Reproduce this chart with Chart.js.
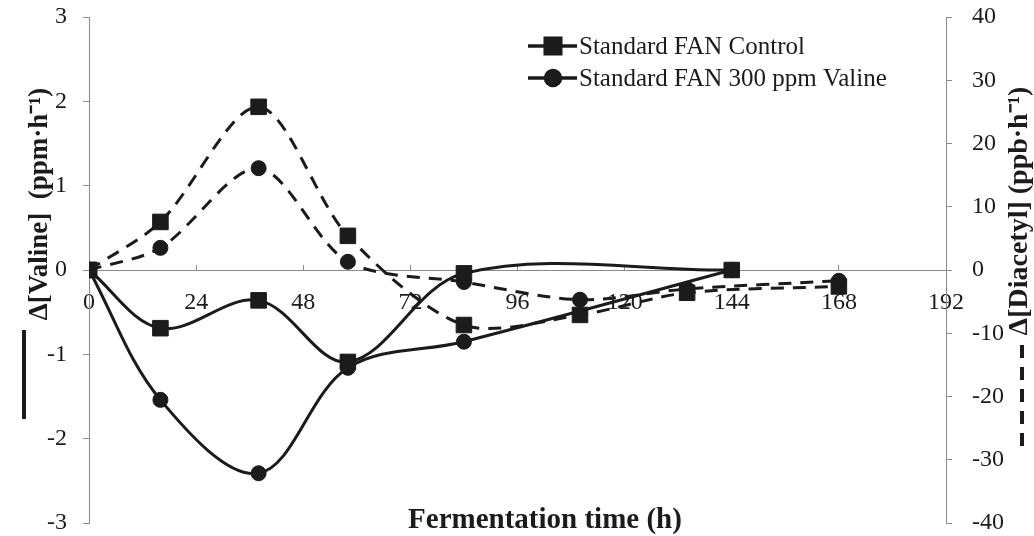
<!DOCTYPE html>
<html>
<head>
<meta charset="utf-8">
<script src="https://cdn.jsdelivr.net/npm/chart.js@4.4.1/dist/chart.umd.min.js"></script>
<style>
  html, body { margin: 0; padding: 0; background: #fff; }
  #wrap { width: 1034px; height: 536px; }
</style>
</head>
<body>
<div id="wrap"><canvas id="chart" width="1034" height="536"></canvas></div>
<script>
// ===== DATA =====
var hours = [0, 16, 38, 58, 84, 110, 134, 144, 168];
// valine change rate (ppm/h), left axis, solid lines
var valineControl = [0, -0.69, -0.36, -1.09, -0.04, null, null, 0, null];
var valine300 = [0, -1.54, -2.41, -1.16, -0.85, null, null, 0, null];
// diacetyl change rate (ppb/h), right axis, dashed lines
var diacetylControl = [0, 7.6, 25.8, 5.4, -8.7, -7.1, -3.6, null, -2.6];
var diacetyl300 = [0, 3.5, 16.1, 1.3, -1.9, -4.7, -3.0, null, -1.7];

var seriesNames = ['Standard FAN Control', 'Standard FAN 300 ppm Valine'];
var xTicks = [0, 24, 48, 72, 96, 120, 144, 168, 192];
var xTitle = 'Fermentation time (h)';
var leftTitle = '\u0394[Valine]  (ppm\u00b7h\u207b\u00b9)';
var rightTitle = '\u0394[Diacetyl] (ppb\u00b7h\u207b\u00b9)';

function points(values) {
    var out = [];
    for (var i = 0; i < hours.length; i++) {
        if (values[i] !== null) out.push({ x: hours[i], y: values[i] });
    }
    return out;
}

var ink = '#1b1b1b';
var axisGray = '#8a8a8a';
var serif = '"Liberation Serif", "Times New Roman", serif';

// titles, key lines and legend drawn on top
var decor = {
    id: 'decor',
    afterDraw: function (chart) {
        var ctx = chart.ctx;
        ctx.save();
        ctx.fillStyle = ink;
        ctx.strokeStyle = ink;
        ctx.font = 'bold 29px ' + serif;
        ctx.textAlign = 'center';
        ctx.textBaseline = 'middle';
        ctx.fillText(xTitle, 545, 521);

        // left title + solid key
        ctx.font = 'bold 27px ' + serif;
        ctx.save();
        ctx.translate(40, 204);
        ctx.rotate(-Math.PI / 2);
        ctx.fillText(leftTitle, 0, 0);
        ctx.restore();
        ctx.lineWidth = 4;
        ctx.beginPath();
        ctx.moveTo(24, 330);
        ctx.lineTo(24, 419);
        ctx.stroke();

        // right title + dashed key
        ctx.font = 'bold 28px ' + serif;
        ctx.save();
        ctx.translate(1020, 211);
        ctx.rotate(-Math.PI / 2);
        ctx.fillText(rightTitle, 0, 0);
        ctx.restore();
        ctx.setLineDash([13, 9]);
        ctx.beginPath();
        ctx.moveTo(1022, 345);
        ctx.lineTo(1022, 452);
        ctx.stroke();
        ctx.setLineDash([]);

        // legend
        ctx.font = '25px ' + serif;
        ctx.textAlign = 'left';
        var styles = ['rect', 'circle'];
        for (var i = 0; i < seriesNames.length; i++) {
            var y = 46 + i * 32;
            ctx.lineWidth = 3.5;
            ctx.beginPath();
            ctx.moveTo(528, y);
            ctx.lineTo(577, y);
            ctx.stroke();
            Chart.helpers.drawPoint(ctx, { pointStyle: styles[i], radius: styles[i] === 'rect' ? 11 : 7.5, borderWidth: 1 }, 553, y);
            ctx.fill();
            ctx.fillText(seriesNames[i], 579, y + 1);
        }
        ctx.restore();
    }
};

var whiteBg = {
    id: 'whiteBg',
    beforeDraw: function (chart) {
        var ctx = chart.ctx;
        ctx.save();
        ctx.fillStyle = '#fff';
        ctx.fillRect(0, 0, chart.width, chart.height);
        ctx.restore();
    }
};

function lineSet(label, values, axis, style, dashed) {
    return {
        label: label,
        data: points(values),
        yAxisID: axis,
        borderColor: ink,
        backgroundColor: ink,
        borderWidth: 3,
        borderDash: dashed ? [13, 9] : [],
        pointStyle: style,
        pointRadius: style === 'rect' ? 11 : 7.5,
        pointBackgroundColor: ink,
        pointBorderColor: ink,
        pointBorderWidth: 1,
        tension: dashed ? 0.3 : 0.35,
        fill: false,
        spanGaps: true
    };
}

// fixed axis widths, no extra label padding above/below
function fixY(width) {
    return function (scale) {
        scale.width = width;
        scale.paddingTop = 0;
        scale.paddingBottom = 0;
        if (scale._margins) {
            scale._margins.top = 0;
            scale._margins.bottom = 0;
        }
    };
}

var ctx = document.getElementById('chart').getContext('2d');
new Chart(ctx, {
    type: 'line',
    data: {
        datasets: [
            lineSet(seriesNames[0], valineControl, 'y', 'rect', false),
            lineSet(seriesNames[1], valine300, 'y', 'circle', false),
            lineSet(seriesNames[0], diacetylControl, 'y2', 'rect', true),
            lineSet(seriesNames[1], diacetyl300, 'y2', 'circle', true)
        ]
    },
    options: {
        responsive: false,
        animation: false,
        layout: { padding: { top: 17, bottom: 13, left: 0, right: 0 } },
        plugins: { legend: { display: false }, tooltip: { enabled: false } },
        scales: {
            x: {
                type: 'linear',
                position: { y: 0 },
                min: 0, max: 192,
                afterBuildTicks: function (scale) {
                    scale.ticks = xTicks.map(function (v) { return { value: v }; });
                },
                afterFit: function (scale) { scale.height = 0; },
                ticks: { color: ink, font: { family: serif, size: 24 }, padding: 24, maxRotation: 0 },
                grid: { drawOnChartArea: false, drawTicks: true, tickLength: -6, color: axisGray },
                border: { color: axisGray, width: 1 }
            },
            y: {
                position: 'left',
                min: -3, max: 3,
                ticks: { stepSize: 1, color: ink, font: { family: serif, size: 24 }, padding: 16 },
                grid: { drawOnChartArea: false, tickLength: 6, color: axisGray },
                border: { color: axisGray, width: 1 },
                afterFit: fixY(89)
            },
            y2: {
                position: 'right',
                min: -40, max: 40,
                ticks: { stepSize: 10, color: ink, font: { family: serif, size: 24 }, padding: 20 },
                grid: { drawOnChartArea: false, tickLength: 6, color: axisGray },
                border: { color: axisGray, width: 1 },
                afterFit: fixY(88)
            }
        }
    },
    plugins: [whiteBg, decor]
});
</script>
</body>
</html>
